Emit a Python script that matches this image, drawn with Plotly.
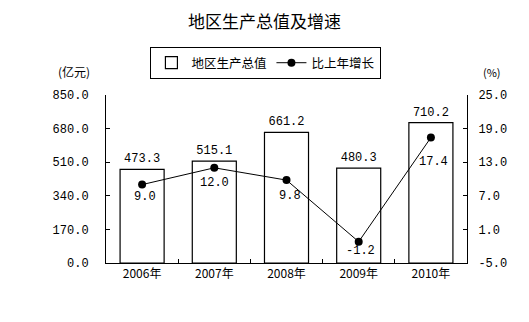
import plotly.graph_objects as go

years = ["2006年", "2007年", "2008年", "2009年", "2010年"]
gdp = [473.3, 515.1, 661.2, 480.3, 710.2]          # 亿元
growth = [9.0, 12.0, 9.8, -1.2, 17.4]             # %

left_ticks = [0, 170, 340, 510, 680, 850]
right_ticks = [-5, 1, 7, 13, 19, 25]

# pixel offsets of the growth labels relative to their points
growth_label_dx = [3, 0, 3, 2, 3]
growth_label_dy = [-12, -15, -16, -9, -24]

FONT = "Liberation Mono, Noto Sans CJK SC, monospace"
CJK = "Noto Sans CJK SC, sans-serif"

fig = go.Figure()
fig.add_trace(go.Bar(
    x=years, y=gdp, name="地区生产总值",
    marker=dict(color="white", line=dict(color="black", width=1.2)),
    width=0.61,
    text=[f"{v:.1f}" for v in gdp], textposition="outside",
    textfont=dict(family=FONT, size=12, color="black"),
    cliponaxis=False,
))
fig.add_trace(go.Scatter(
    x=years, y=growth, name="比上年增长", yaxis="y2",
    mode="lines+markers",
    line=dict(color="black", width=1),
    marker=dict(color="black", size=8),
    cliponaxis=False,
))

growth_labels = [
    dict(text=f"{v:.1f}", x=yr, y=v, xref="x", yref="y2",
         xshift=dx, yshift=dy, showarrow=False,
         xanchor="center", yanchor="middle",
         font=dict(family=FONT, size=12, color="black"))
    for yr, v, dx, dy in zip(years, growth, growth_label_dx, growth_label_dy)
]

fig.update_layout(
    width=529, height=322,
    margin=dict(l=106, r=62, t=95, b=59),
    paper_bgcolor="white", plot_bgcolor="white",
    font=dict(family=FONT, size=12, color="black"),
    title=dict(text="地区生产总值及增速", x=0.5, xanchor="center",
               y=1 - 22 / 322, yanchor="middle",
               font=dict(family=CJK, size=17, color="black")),
    showlegend=True,
    legend=dict(orientation="h", x=0.443, y=1.19, xanchor="center", yanchor="middle",
                bordercolor="black", borderwidth=1, bgcolor="white",
                font=dict(family=CJK, size=12.5, color="black"),
                itemwidth=30, tracegroupgap=0),
    bargap=0.39,
    xaxis=dict(type="category", showline=True, linecolor="black", linewidth=1,
               ticks="inside", tickson="boundaries", ticklen=4, tickcolor="black",
               showgrid=False, tickfont=dict(family=CJK, size=12)),
    yaxis=dict(range=[0, 850], tickvals=left_ticks,
               ticktext=[f"{v:.1f}" for v in left_ticks],
               showline=True, linecolor="black", linewidth=1,
               ticks="inside", ticklen=4, tickcolor="black",
               showgrid=False, zeroline=False, ticklabelstandoff=14),
    yaxis2=dict(range=[-5, 25], tickvals=right_ticks,
                ticktext=[f"{v:.1f}" for v in right_ticks],
                overlaying="y", side="right",
                showline=True, linecolor="black", linewidth=1,
                ticks="inside", ticklen=4, tickcolor="black",
                showgrid=False, zeroline=False, ticklabelstandoff=8),
    annotations=[
        dict(text="(亿元)", xref="paper", yref="paper", x=-0.09, y=1.137,
             xanchor="center", yanchor="middle",
             showarrow=False, font=dict(family=CJK, size=12)),
        dict(text="(%)", xref="paper", yref="paper", x=1.07, y=1.137,
             xanchor="center", yanchor="middle",
             showarrow=False, font=dict(family=CJK, size=11)),
    ] + growth_labels,
)

fig.write_html("out.html")
